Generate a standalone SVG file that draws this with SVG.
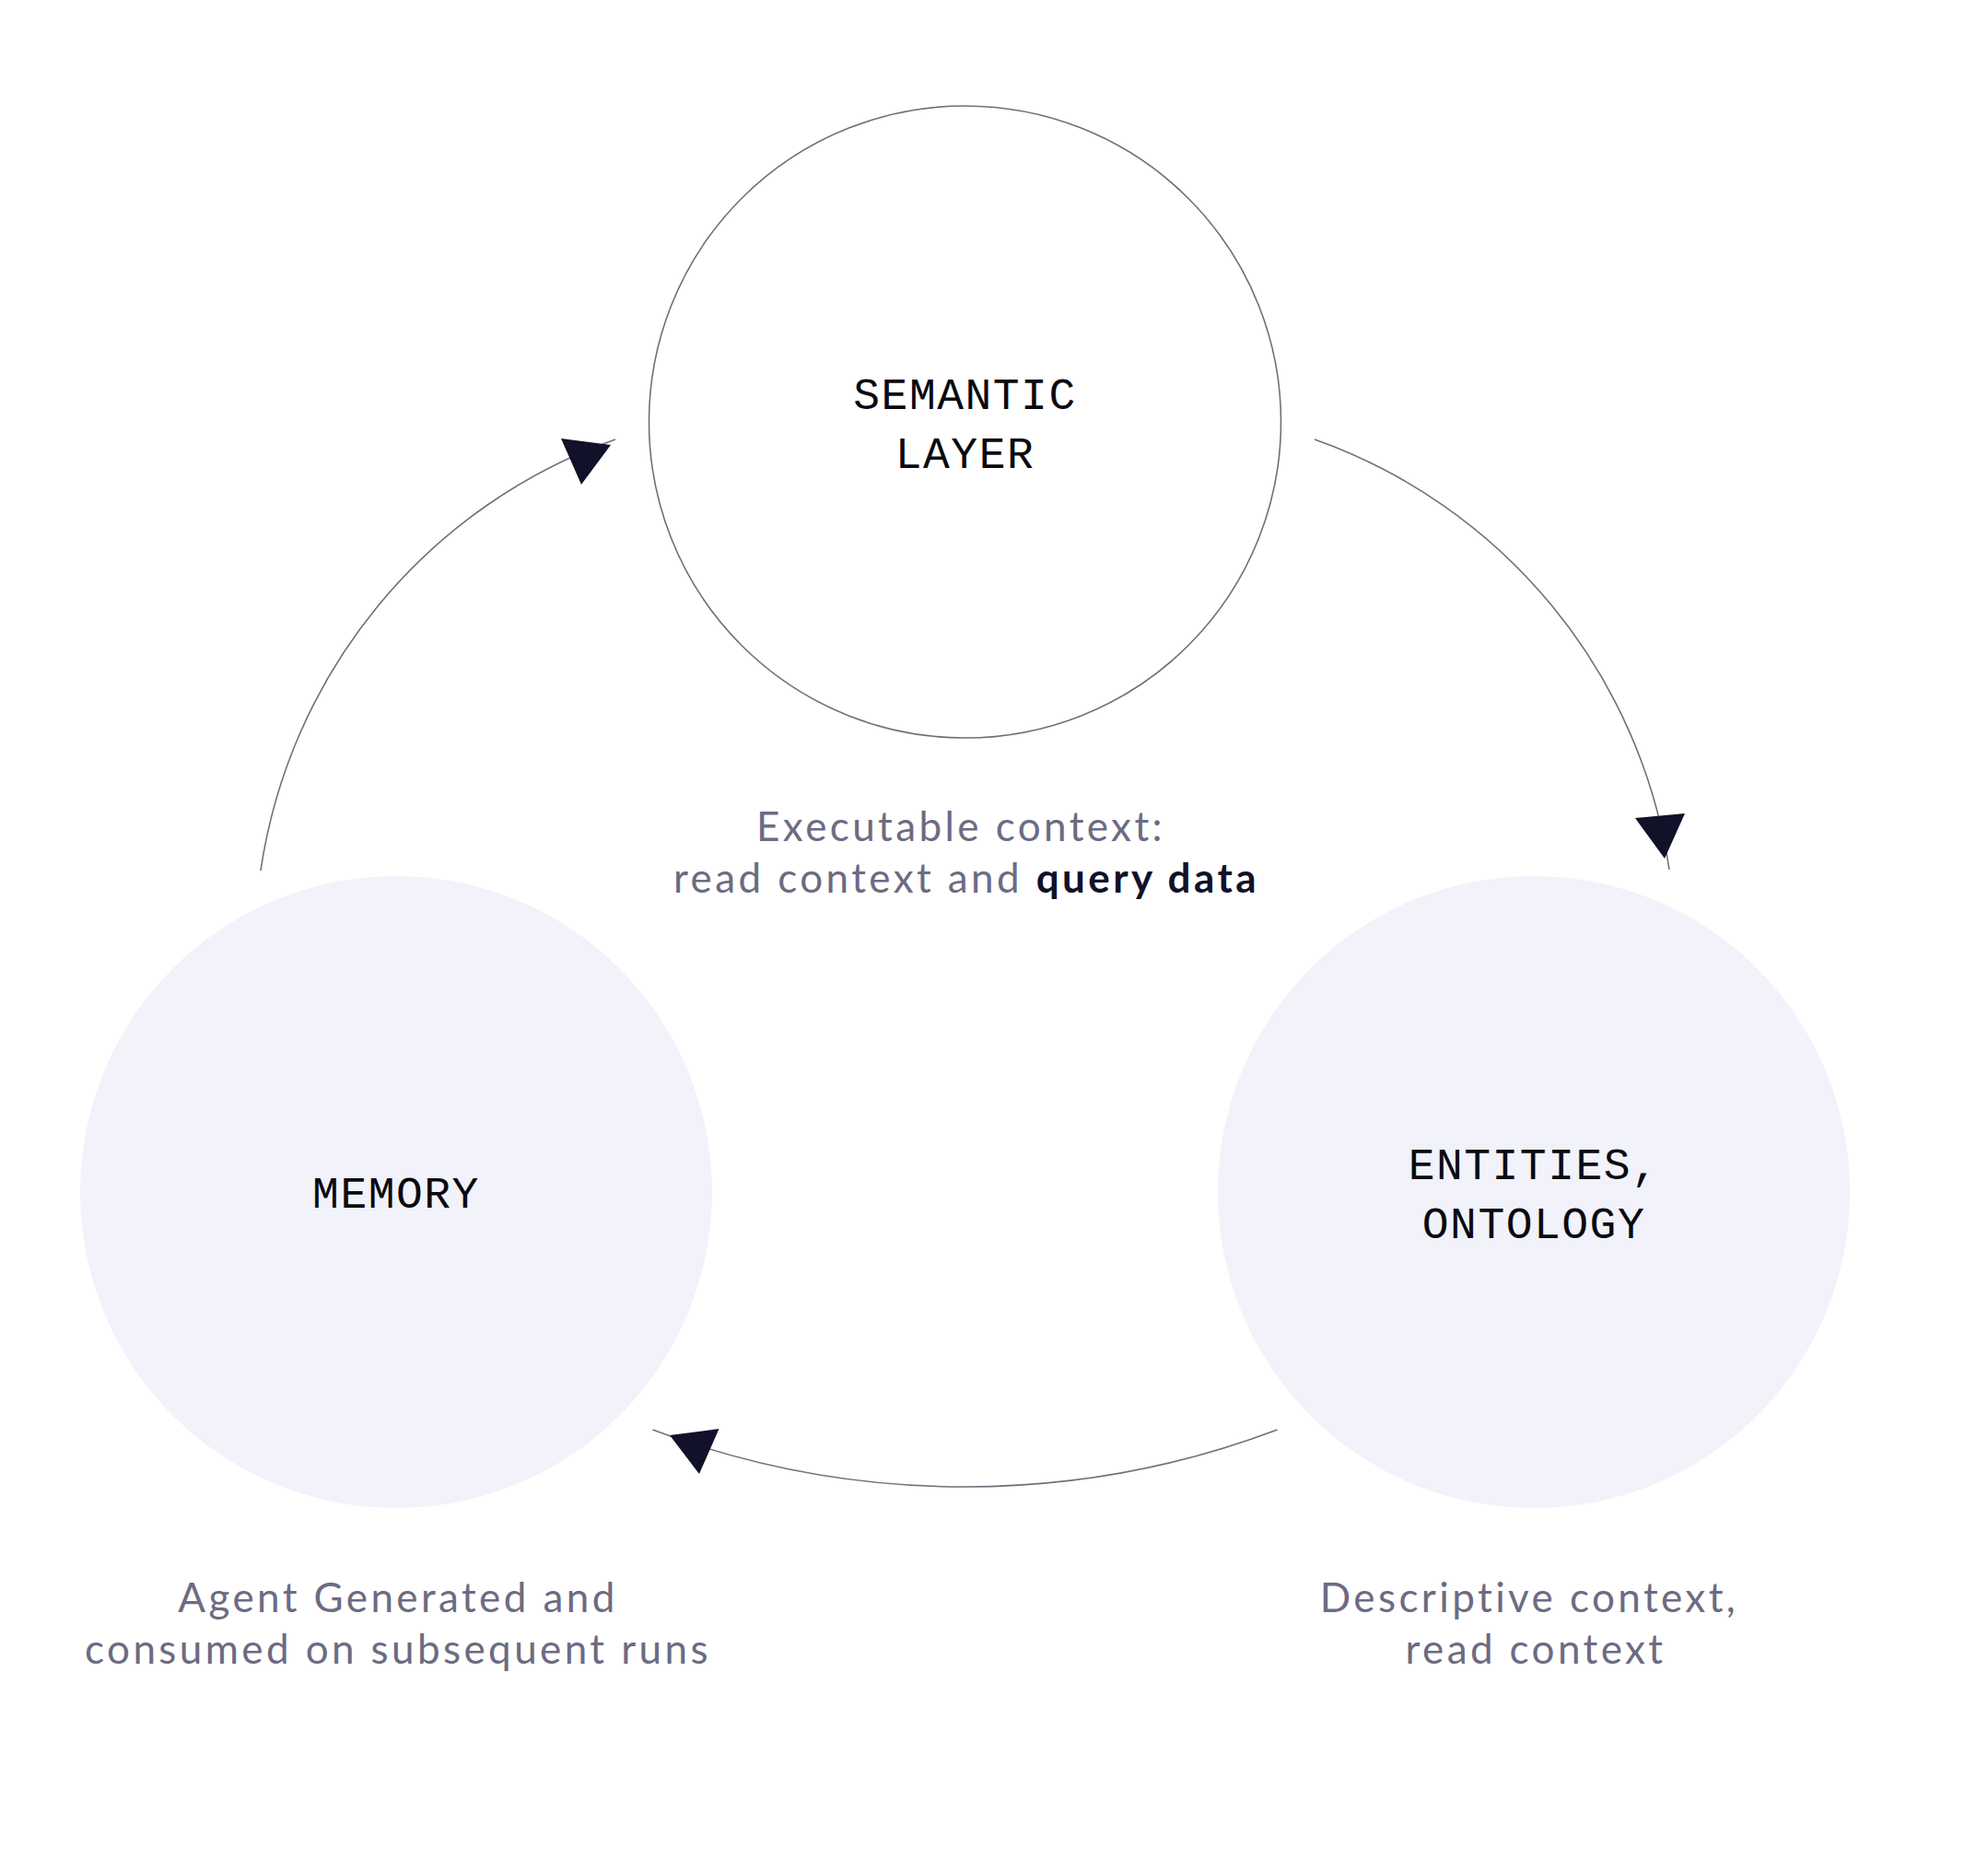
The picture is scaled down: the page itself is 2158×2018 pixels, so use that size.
<svg xmlns="http://www.w3.org/2000/svg" width="2158" height="2018" viewBox="0 0 2158 2018">
  <style>
    .mono { font-family: "Liberation Mono", "DejaVu Sans Mono", monospace; font-size: 48px; letter-spacing: 1.5px; fill: #0a0a0f; text-anchor: middle; }
    .cap { font-family: "Lato", "Open Sans", sans-serif; font-size: 44px; letter-spacing: 3.4px; fill: #6c6b83; text-anchor: middle; }
    .strong { font-weight: 700; fill: #11112a; }
    .conn { fill: none; stroke: #6f6f7d; stroke-width: 1.6; }
    .head { fill: #11112a; }
    .tinted { fill: #f1f2fa; }
  </style>
  <rect width="2158" height="2018" fill="#ffffff"/>

  <g id="connectors">
    <path class="conn" d="M 1427 477 A 587.5 587.5 0 0 1 1812 944"/>
    <polygon class="head" points="1775,888 1829,883 1807,932"/>
    <path class="conn" d="M 1386.5 1552 A 958 958 0 0 1 708.5 1552"/>
    <polygon class="head" points="727,1558 780.5,1551 759,1600"/>
    <path class="conn" d="M 283 945 A 587.5 587.5 0 0 1 668 477"/>
    <polygon class="head" points="609,476 663,483 631,526"/>
  </g>

  <g id="semantic-layer">
    <circle cx="1047.5" cy="458" r="343" fill="#ffffff" stroke="#6f6f7d" stroke-width="1.6"/>
    <text class="mono" x="1047.5" y="444">SEMANTIC</text>
    <text class="mono" x="1047.5" y="508">LAYER</text>
  </g>

  <g id="entities-ontology">
    <circle class="tinted" cx="1665" cy="1294" r="343"/>
    <text class="mono" x="1665" y="1280">ENTITIES,</text>
    <text class="mono" x="1665" y="1344">ONTOLOGY</text>
  </g>

  <g id="memory">
    <circle class="tinted" cx="430" cy="1294" r="343"/>
    <text class="mono" x="430" y="1311">MEMORY</text>
  </g>

  <g id="label-semantic">
    <text class="cap" x="1043" y="913">Executable context:</text>
    <text class="cap" x="1049" y="969">read context and <tspan class="strong">query data</tspan></text>
  </g>

  <g id="label-memory">
    <text class="cap" x="432" y="1750">Agent Generated and</text>
    <text class="cap" x="432" y="1806">consumed on subsequent runs</text>
  </g>

  <g id="label-entities">
    <text class="cap" x="1660" y="1750">Descriptive context,</text>
    <text class="cap" x="1667" y="1806">read context</text>
  </g>
</svg>
